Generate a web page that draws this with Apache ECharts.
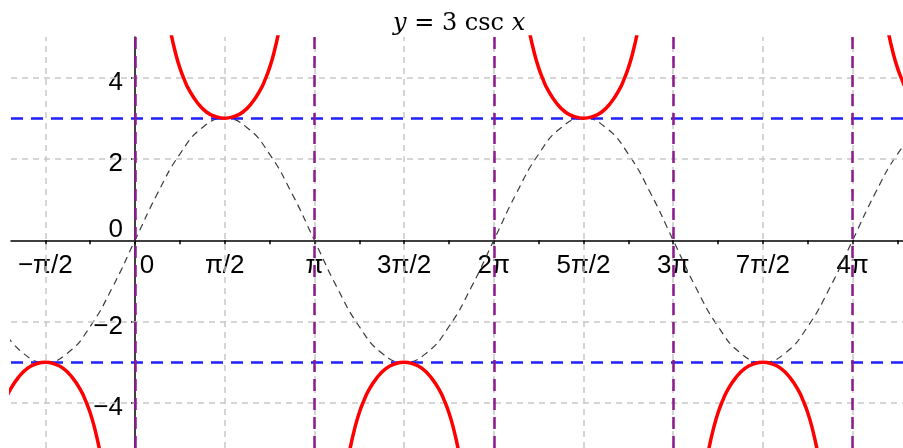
<html>
<head>
    <meta charset="utf-8" />
    <title>y = 3 csc x</title>
    <script src="https://cdnjs.cloudflare.com/ajax/libs/echarts/6.0.0/echarts.min.js"></script>
    <style>
        html, body { margin: 0; padding: 0; background: #fff; }
    </style>
</head>
<body>
<div id="main" style="width:903px;height:448px;"></div>
<script type="text/javascript">
    // x values are in units of pi
    var xMin = -0.6912, xMax = 4.2809;
    var yMin = -5.107, yMax = 5;

    var xTickValues = [-0.5, -0.25, 0, 0.25, 0.5, 0.75, 1, 1.25, 1.5, 1.75, 2, 2.25, 2.5, 2.75, 3, 3.25, 3.5, 3.75, 4, 4.25];
    var xLabelValues = [-0.5, 0, 0.5, 1, 1.5, 2, 2.5, 3, 3.5, 4];
    var xLabelText = ['\u2212\u03c0/2', '0', '\u03c0/2', '\u03c0', '3\u03c0/2', '2\u03c0', '5\u03c0/2', '3\u03c0', '7\u03c0/2', '4\u03c0'];
    var yTickValues = [-4, -2, 2, 4];
    var yLabelValues = [-4, -2, 0, 2, 4];

    var gridX = [-0.5, 0.5, 1, 1.5, 2, 2.5, 3, 3.5, 4];
    var gridY = [-4, -2, 2, 4];

    var asymptoteX = [0, 1, 2, 3, 4];
    var guideY = [3, -3];

    // dashed sine guide
    var sineX = [-0.75, -0.625, -0.5, -0.375, -0.25, -0.125, 0, 0.125, 0.25, 0.375, 0.5, 0.625, 0.75, 0.875,
        1, 1.125, 1.25, 1.375, 1.5, 1.625, 1.75, 1.875, 2, 2.125, 2.25, 2.375, 2.5, 2.625, 2.75, 2.875,
        3, 3.125, 3.25, 3.375, 3.5, 3.625, 3.75, 3.875, 4, 4.125, 4.25, 4.375];
    var sineY = [-2.12, -2.77, -3, -2.77, -2.12, -1.15, 0, 1.15, 2.12, 2.77, 3, 2.77, 2.12, 1.15,
        0, -1.15, -2.12, -2.77, -3, -2.77, -2.12, -1.15, 0, 1.15, 2.12, 2.77, 3, 2.77, 2.12, 1.15,
        0, -1.15, -2.12, -2.77, -3, -2.77, -2.12, -1.15, 0, 1.15, 2.12, 2.77];

    // one csc branch: offset inside its period (pi units) and magnitude
    var branchU = [0.16, 0.18, 0.2, 0.225, 0.25, 0.275, 0.3, 0.35, 0.4, 0.45, 0.5, 0.55, 0.6, 0.65, 0.7, 0.725, 0.75, 0.775, 0.8, 0.82, 0.84];
    var branchMag = [6.23, 5.6, 5.1, 4.62, 4.24, 3.95, 3.71, 3.37, 3.15, 3.04, 3, 3.04, 3.15, 3.37, 3.71, 3.95, 4.24, 4.62, 5.1, 5.6, 6.23];
    var branchStart = [-1, 0, 1, 2, 3, 4];
    var branchSign = [-1, 1, -1, 1, -1, 1];

    var chart = echarts.init(document.getElementById('main'), null, { renderer: 'canvas' });

    // plot box
    var gLeft = 11, gTop = 37, gW = 903 - 11, gH = 448 - 37;
    // move both axes onto the zero lines (labels included)
    var xAxisOffset = -gH * (0 - yMin) / (yMax - yMin);
    var yAxisOffset = -gW * (0 - xMin) / (xMax - xMin);

    var series = [];

    // grid lines below the axes
    series.push({
        type: 'line', data: [], z: -1, silent: true,
        markLine: {
            silent: true, symbol: 'none', animation: false,
            label: { show: false },
            lineStyle: { color: '#c8c8c8', width: 1.5, type: [6, 5] },
            data: gridX.map(v => ({ xAxis: v })).concat(gridY.map(v => ({ yAxis: v })))
        }
    });

    series.push({
        type: 'line', smooth: true, showSymbol: false, silent: true, z: 3,
        data: sineX.map((x, i) => [x, sineY[i]]),
        lineStyle: { color: '#3a3a3a', width: 1.2, type: [7, 5] }
    });

    series.push({
        type: 'line', data: [], z: 4, silent: true,
        markLine: {
            silent: true, symbol: 'none', animation: false,
            label: { show: false },
            lineStyle: { color: '#1f1fff', width: 2.5, type: [12, 8] },
            data: guideY.map(v => ({ yAxis: v }))
        }
    });

    series.push({
        type: 'line', data: [], z: 5, silent: true,
        markLine: {
            silent: true, symbol: 'none', animation: false,
            label: { show: false },
            lineStyle: { color: '#8b1a8b', width: 2.5, type: [12, 7] },
            data: asymptoteX.map(v => ({ xAxis: v }))
        }
    });

    branchStart.forEach((s, k) => {
        series.push({
            type: 'line', smooth: true, showSymbol: false, silent: true, z: 6,
            data: branchU.map((u, i) => [s + u, branchSign[k] * branchMag[i]]),
            lineStyle: { color: '#ff0000', width: 3.5 }
        });
    });

    var labelFont = 'Liberation Sans';
    var labelSize = 26;

    var option = {
        animation: false,
        backgroundColor: '#ffffff',
        title: {
            text: '{i|y} = 3 csc {i|x}',
            left: 393,
            top: 12,
            padding: 0,
            textStyle: {
                fontFamily: 'DejaVu Serif', fontSize: 24, fontWeight: 'normal', color: '#000',
                rich: {
                    i: { fontFamily: 'DejaVu Serif', fontSize: 24, fontStyle: 'italic', color: '#000' }
                }
            }
        },
        grid: { left: gLeft, top: gTop, width: gW, height: gH, containLabel: false, outerBoundsMode: 'none' },
        xAxis: {
            type: 'value', min: xMin, max: xMax, position: 'bottom', offset: xAxisOffset,
            splitLine: { show: false },
            axisLine: { onZero: false, lineStyle: { color: '#000', width: 1.5 } },
            axisTick: { customValues: xTickValues, length: 4, lineStyle: { color: '#000', width: 1.5 } },
            axisLabel: {
                customValues: xLabelValues, margin: 13,
                fontFamily: labelFont, fontSize: labelSize, color: '#000',
                formatter: function (v) {
                    var i = xLabelValues.indexOf(v);
                    if (v === 0) return '{z|0}';
                    return i >= 0 ? xLabelText[i] : '';
                },
                rich: { z: { padding: [0, 0, 0, 24], fontFamily: labelFont, fontSize: labelSize, color: '#000' } }
            }
        },
        yAxis: {
            type: 'value', min: yMin, max: yMax, position: 'left', offset: yAxisOffset,
            splitLine: { show: false },
            axisLine: { onZero: false, lineStyle: { color: '#000', width: 1.5 } },
            axisTick: { customValues: yTickValues, length: 4, lineStyle: { color: '#000', width: 1.5 } },
            axisLabel: {
                customValues: yLabelValues, margin: 12,
                padding: [10, 0, 0, 0],
                fontFamily: labelFont, fontSize: labelSize, color: '#000',
                formatter: function (v) {
                    if (v === 0) return '{z|0}';
                    return v < 0 ? '\u2212' + Math.abs(v) : String(v);
                },
                rich: { z: { padding: [0, 0, 30, 0], fontFamily: labelFont, fontSize: labelSize, color: '#000' } }
            }
        },
        series: series
    };
    chart.setOption(option);
</script>
</body>
</html>
